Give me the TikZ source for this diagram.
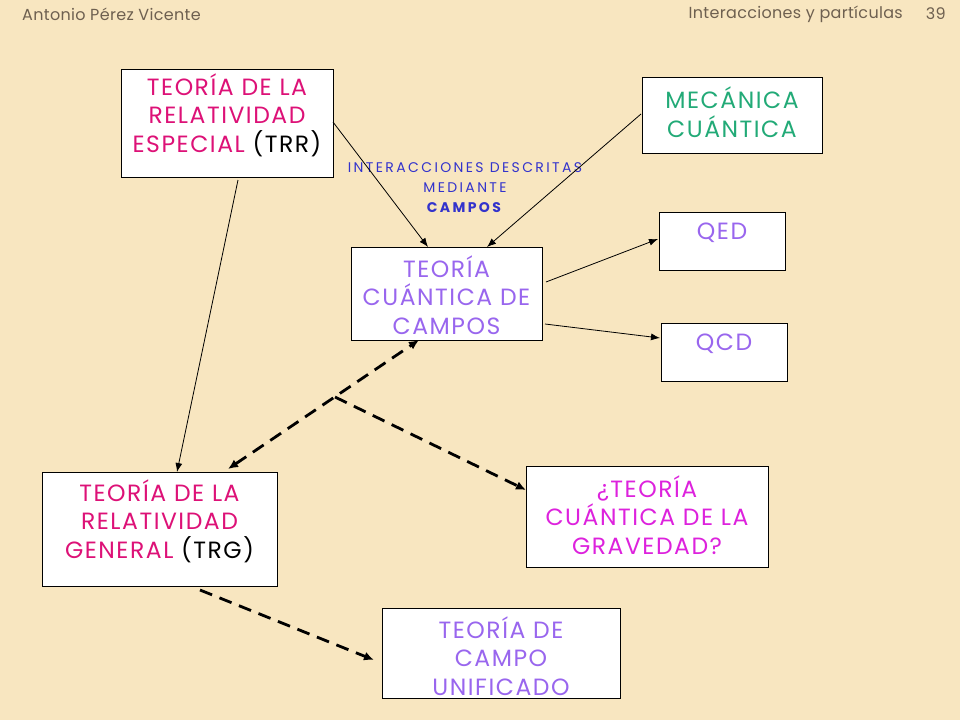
\documentclass[tikz,border=0pt]{standalone}
\usepackage{fontspec}
\setmainfont{Poppins}
\newfontfamily\boxfont[LetterSpace=6.5]{Poppins}
\newfontfamily\labfont[LetterSpace=17.0]{Poppins}
\newfontfamily\hdrfont[LetterSpace=2.0]{Poppins}
\usetikzlibrary{arrows.meta}
\definecolor{bgc}{HTML}{F8E6C0}
\definecolor{hdr}{HTML}{6E6050}
\definecolor{pinkc}{HTML}{DD1177}
\definecolor{greenc}{HTML}{22AA77}
\definecolor{lavc}{HTML}{9966EE}
\definecolor{magc}{HTML}{DD22DD}
\definecolor{bluec}{HTML}{3333CC}
\tikzset{
  box/.style={draw=black, line width=0.9pt, fill=white, inner sep=0pt},
  txt/.style={align=center, font=\boxfont\fontsize{23.5}{28.5}\selectfont, inner sep=0pt},
  hdrtxt/.style={text=hdr, font=\hdrfont\fontsize{16}{18}\selectfont, inner sep=0pt},
  solidarr/.style={draw=black, line width=0.8pt, -{Latex[length=9pt,width=7pt]}},
  dasharr/.style={draw=black, line width=2.8pt, dash pattern=on 13pt off 8pt, -{Latex[length=10pt,width=9pt]}},
  dashboth/.style={draw=black, line width=2.8pt, dash pattern=on 13pt off 8pt, {Latex[length=10pt,width=9pt]}-{Latex[length=10pt,width=9pt]}}
}
\begin{document}
\begin{tikzpicture}[x=1pt,y=-1pt]
\fill[bgc] (0,0) rectangle (960,720);
\useasboundingbox (0,0) rectangle (960,720);
% header
\node[hdrtxt, anchor=west] (h1) at (22,14) {Antonio Pérez Vicente};
\node[hdrtxt, anchor=east] (h2) at (903,14) {Interacciones y partículas};
\node[hdrtxt, anchor=east] (h3) at (946,14) {39};
% boxes
\node[box, minimum width=212pt, minimum height=108pt] (trr) at (227,123) {};
\node[txt] (trrt) at (227,115) {\textcolor{pinkc}{TEORÍA DE LA}\\\textcolor{pinkc}{RELATIVIDAD}\\\textcolor{pinkc}{ESPECIAL} (TRR)};
\node[box, minimum width=180pt, minimum height=76pt] (mc) at (732,115) {};
\node[txt, text=greenc] (mct) at (732,112) {MECÁNICA\\CUÁNTICA};
\node[box, minimum width=191pt, minimum height=93pt] (tcc) at (446.5,293.5) {};
\node[txt, text=lavc] (tcct) at (446.5,295) {TEORÍA\\CUÁNTICA DE\\CAMPOS};
\node[box, minimum width=126pt, minimum height=58pt] (qed) at (722,241) {};
\node[txt, text=lavc] (qedt) at (722,233) {QED};
\node[box, minimum width=126pt, minimum height=58pt] (qcd) at (724,352) {};
\node[txt, text=lavc] (qcdt) at (724,344) {QCD};
\node[box, minimum width=235pt, minimum height=114pt] (trg) at (159.5,529) {};
\node[txt] (trgt) at (159.5,521) {\textcolor{pinkc}{TEORÍA DE LA}\\\textcolor{pinkc}{RELATIVIDAD}\\\textcolor{pinkc}{GENERAL} (TRG)};
\node[box, minimum width=242pt, minimum height=101pt] (tcg) at (647,516.5) {};
\node[txt, text=magc] (tcgt) at (647,515) {¿TEORÍA\\CUÁNTICA DE LA\\GRAVEDAD?};
\node[box, minimum width=238pt, minimum height=90pt] (tcu) at (501,653) {};
\node[txt, text=lavc] (tcut) at (501,656) {TEORÍA DE\\CAMPO\\UNIFICADO};
% label
\node[align=center, text=bluec, font=\labfont\fontsize{14}{20}\selectfont, inner sep=0pt] (lab) at (465,188) {INTERACCIONES DESCRITAS\\MEDIANTE\\\textbf{CAMPOS}};
% coordinates for connector ends
\coordinate (trrE) at (333,122);
\coordinate (tccA) at (428,247);
\coordinate (mcW) at (641,114);
\coordinate (tccB) at (487,247);
\coordinate (trrS) at (238,180);
\coordinate (trgN) at (177,472);
\coordinate (tccE1) at (546,282);
\coordinate (qedW) at (658,239);
\coordinate (tccE2) at (545,324);
\coordinate (qcdW) at (660,338);
\coordinate (trgA) at (228,469);
\coordinate (tccS) at (419,340);
\coordinate (mid) at (335,397);
\coordinate (tcgW) at (526,490);
\coordinate (trgS) at (200,590);
\coordinate (tcuW) at (374,660);
% connectors
\draw[solidarr] (trrE) -- (tccA);
\draw[solidarr] (mcW) -- (tccB);
\draw[solidarr] (trrS) -- (trgN);
\draw[solidarr] (tccE1) -- (qedW);
\draw[solidarr] (tccE2) -- (qcdW);
\draw[dashboth] (trgA) -- (tccS);
\draw[dasharr] (mid) -- (tcgW);
\draw[dasharr] (trgS) -- (tcuW);
\end{tikzpicture}
\end{document}
